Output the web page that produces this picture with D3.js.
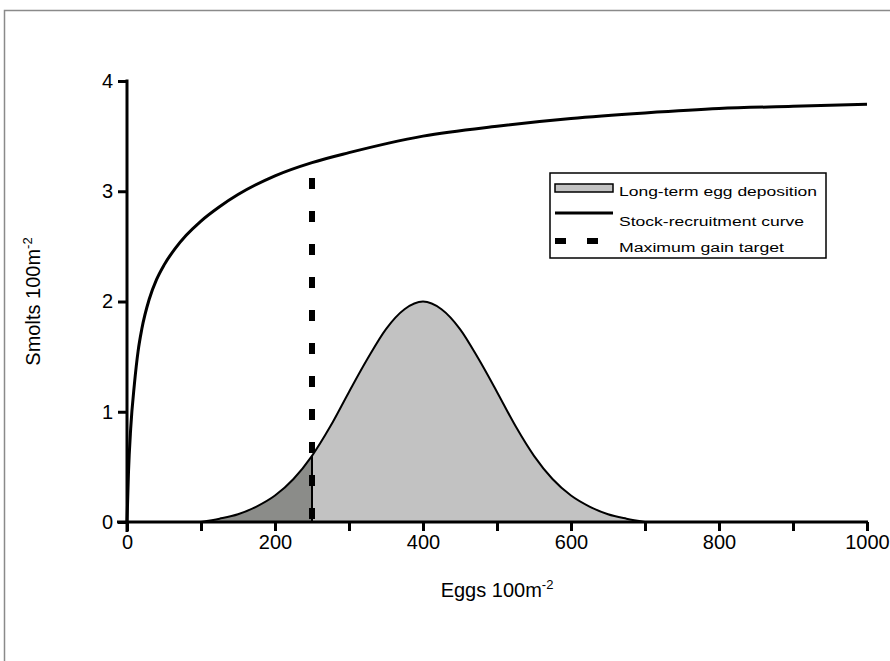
<!DOCTYPE html>
<html>
<head>
<meta charset="utf-8">
<script src="https://cdn.jsdelivr.net/npm/d3@7/dist/d3.min.js"></script>
<style>
  html, body { margin: 0; padding: 0; background: #fff; }
  svg { display: block; }
  text { font-family: "Liberation Sans", Arial, sans-serif; }
</style>
</head>
<body>
<svg id="chart" width="890" height="661"></svg>
<script>
// ---- data ----
const srEggs    = [0, 2, 5, 10, 15, 20, 30, 40, 50, 65, 80, 100, 125, 150, 200, 250, 300, 400, 500, 600, 700, 800, 900, 1000];
const srSmolts  = [0, 0.45, 0.85, 1.25, 1.55, 1.75, 2.02, 2.2, 2.33, 2.48, 2.6, 2.73, 2.86, 2.97, 3.14, 3.26, 3.35, 3.50, 3.59, 3.66, 3.71, 3.75, 3.77, 3.79];

const depEggs   = [100, 125, 150, 175, 200, 225, 250, 275, 300, 325, 350, 375, 400, 425, 450, 475, 500, 525, 550, 575, 600, 625, 650, 675, 700];
const depSmolts = [0.0, 0.03, 0.07, 0.14, 0.24, 0.39, 0.60, 0.87, 1.18, 1.48, 1.75, 1.93, 2.0, 1.93, 1.75, 1.48, 1.18, 0.87, 0.60, 0.39, 0.24, 0.14, 0.07, 0.03, 0.0];

const targetEggs = 250;
const targetTop  = 3.12;

const xTicks = [0, 100, 200, 300, 400, 500, 600, 700, 800, 900, 1000];
const xTickLabels = ["0", "", "200", "", "400", "", "600", "", "800", "", "1000"];
const yTicks = [0, 1, 2, 3, 4];
const yTickLabels = ["0", "1", "2", "3", "4"];

const legendLabels = ["Long-term egg deposition", "Stock-recruitment curve", "Maximum gain target"];
const xTitle = "Eggs 100m";
const yTitle = "Smolts 100m";
const unitSup = "-2";

// ---- drawing ----
const svg = d3.select("#chart");

// outer frame
svg.append("path")
  .attr("d", "M4.5,661 L4.5,10.5 L890,10.5")
  .attr("fill", "none").attr("stroke", "#8a8a8a").attr("stroke-width", 1.5);

const x = d3.scaleLinear().domain([0, 1000]).range([127, 867]);
const y = d3.scaleLinear().domain([0, 4]).range([522, 81]);

const dep = depEggs.map((e, i) => ({ e, s: depSmolts[i] }));
const area = d3.area().x(d => x(d.e)).y0(y(0)).y1(d => y(d.s)).curve(d3.curveMonotoneX);
const lineDep = d3.line().x(d => x(d.e)).y(d => y(d.s)).curve(d3.curveMonotoneX);

// clip regions for left / right of target
const defs = svg.append("defs");
defs.append("clipPath").attr("id", "clipL").append("rect")
  .attr("x", 0).attr("y", 0).attr("width", x(targetEggs)).attr("height", 661);
defs.append("clipPath").attr("id", "clipR").append("rect")
  .attr("x", x(targetEggs)).attr("y", 0).attr("width", 890).attr("height", 661);

svg.append("path").datum(dep).attr("d", area)
  .attr("fill", "#c2c2c2").attr("clip-path", "url(#clipR)");
svg.append("path").datum(dep).attr("d", area)
  .attr("fill", "#8b8c89").attr("clip-path", "url(#clipL)");
svg.append("path").datum(dep).attr("d", lineDep)
  .attr("fill", "none").attr("stroke", "#000").attr("stroke-width", 2);

// vertical divider at target
const depAtTarget = depSmolts[depEggs.indexOf(targetEggs)];
svg.append("line")
  .attr("x1", x(targetEggs)).attr("x2", x(targetEggs))
  .attr("y1", y(0)).attr("y2", y(depAtTarget))
  .attr("stroke", "#000").attr("stroke-width", 2);

// stock-recruitment curve
const sr = srEggs.map((e, i) => ({ e, s: srSmolts[i] }));
svg.append("path").datum(sr)
  .attr("d", d3.line().x(d => x(d.e)).y(d => y(d.s)).curve(d3.curveMonotoneX))
  .attr("fill", "none").attr("stroke", "#000").attr("stroke-width", 3);

// maximum gain target (dashed)
svg.append("line")
  .attr("x1", x(targetEggs)).attr("x2", x(targetEggs))
  .attr("y1", y(targetTop)).attr("y2", y(0))
  .attr("stroke", "#000").attr("stroke-width", 6)
  .attr("stroke-dasharray", "11,22");

// axes
const xAxis = d3.axisBottom(x).tickValues(xTicks)
  .tickFormat((d, i) => xTickLabels[i]).tickSize(9).tickSizeOuter(0).tickPadding(4);
const gx = svg.append("g").attr("transform", `translate(0,${y(0)})`).call(xAxis);
gx.select(".domain").attr("stroke-width", 3).attr("d", `M${x(0)-10},0H${x(1000)+1}`);
gx.selectAll(".tick line").attr("stroke-width", 3);
gx.selectAll(".tick text").attr("font-size", 20).attr("fill", "#000")
  .attr("font-family", "'Liberation Sans', Arial, sans-serif");

const yAxis = d3.axisLeft(y).tickValues(yTicks)
  .tickFormat((d, i) => yTickLabels[i]).tickSize(9).tickSizeOuter(0).tickPadding(5);
const gy = svg.append("g").attr("transform", `translate(${x(0)},0)`).call(yAxis);
gy.select(".domain").attr("stroke-width", 3).attr("d", `M0,${y(4)-1.5}V${y(0)+10}`);
gy.selectAll(".tick line").attr("stroke-width", 3);
gy.selectAll(".tick text").attr("font-size", 20).attr("fill", "#000")
  .attr("font-family", "'Liberation Sans', Arial, sans-serif");

// axis titles
const xt = svg.append("text").attr("x", (x(0) + x(1000)) / 2).attr("y", 597)
  .attr("text-anchor", "middle").attr("font-size", 20).attr("fill", "#000");
xt.append("tspan").text(xTitle);
xt.append("tspan").attr("dy", -8).attr("font-size", 13).text(unitSup);

const yt = svg.append("text")
  .attr("transform", `translate(40,${(y(0) + y(4)) / 2}) rotate(-90)`)
  .attr("text-anchor", "middle").attr("font-size", 20).attr("fill", "#000");
yt.append("tspan").text(yTitle);
yt.append("tspan").attr("dy", -8).attr("font-size", 13).text(unitSup);

// legend
const lg = svg.append("g");
lg.append("rect").attr("x", 550).attr("y", 173).attr("width", 276).attr("height", 85)
  .attr("fill", "#fff").attr("stroke", "#000").attr("stroke-width", 1.5);
lg.append("rect").attr("x", 555).attr("y", 184).attr("width", 58).attr("height", 8)
  .attr("fill", "#c2c2c2").attr("stroke", "#000").attr("stroke-width", 1.5);
lg.append("line").attr("x1", 555).attr("x2", 613).attr("y1", 213).attr("y2", 213)
  .attr("stroke", "#000").attr("stroke-width", 3);
lg.append("line").attr("x1", 555).attr("x2", 600).attr("y1", 241).attr("y2", 241)
  .attr("stroke", "#000").attr("stroke-width", 6).attr("stroke-dasharray", "11,21");
const legY = [196, 226, 252];
const legW = [198, 185, 165];
legendLabels.forEach((t, i) => {
  lg.append("text").attr("x", 619).attr("y", legY[i])
    .attr("font-size", 12).attr("fill", "#000")
    .attr("font-family", "'DejaVu Sans', sans-serif")
    .attr("textLength", legW[i]).attr("lengthAdjust", "spacingAndGlyphs")
    .text(t);
});
</script>
</body>
</html>
